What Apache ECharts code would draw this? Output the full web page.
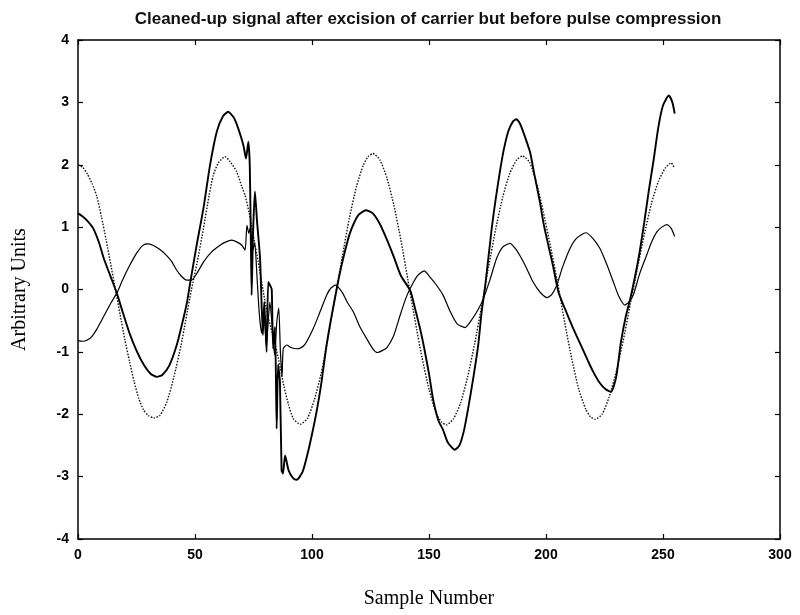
<!DOCTYPE html>
<html>
<head>
<meta charset="utf-8">
<script src="https://cdn.jsdelivr.net/npm/echarts@6/dist/echarts.min.js"></script>
<style>
html,body{margin:0;padding:0;background:#fff;}
#chart{width:800px;height:615px;}
</style>
</head>
<body>
<div id="chart"></div>
<script>
// Thick solid trace (largest amplitude)
var traceThick = [[0,1.22],[2,1.17],[4,1.1],[6.5,0.98],[9,0.75],[11,0.5],[13.7,0.23],[16.7,-0.07],[19,-0.35],[22,-0.7],[25,-0.98],[28,-1.2],[31,-1.35],[33.7,-1.40],[36,-1.37],[39,-1.22],[42.2,-0.89],[44.5,-0.55],[46.5,-0.22],[48,0.12],[50.7,0.71],[53.6,1.3],[56.4,1.99],[59.3,2.53],[62,2.78],[64.2,2.85],[66.5,2.76],[68.5,2.58],[70.7,2.31],[71.8,2.1],[72.8,2.37],[73.4,2.0],[73.8,1.0],[74.2,-0.09],[74.8,0.9],[75.6,1.57],[76.5,1.1],[77.8,0.5],[79,-0.73],[79.6,-0.2],[80.6,-1.0],[81.3,0.12],[82.3,0.05],[82.8,0.0],[83.4,-0.95],[84.2,-0.6],[84.9,-2.23],[85.5,-1.2],[86.3,-1.48],[87,-2.9],[87.6,-2.95],[88.5,-2.66],[90,-2.9],[92,-3.03],[93.5,-3.05],[96,-2.92],[98,-2.65],[100,-2.32],[102,-1.95],[104,-1.5],[106,-0.95],[108,-0.5],[110,-0.1],[112,0.28],[114,0.6],[116,0.88],[118,1.07],[120,1.2],[123,1.27],[126,1.22],[129,1.05],[132,0.8],[135,0.52],[138,0.22],[142,-0.02],[144,-0.3],[146.2,-0.63],[148,-0.95],[150,-1.35],[151.7,-1.75],[154,-2.1],[156,-2.25],[158,-2.45],[161,-2.57],[163,-2.5],[165,-2.25],[167,-1.85],[169,-1.4],[171,-0.9],[172.5,-0.36],[174,0.05],[176.8,0.98],[178.5,1.45],[180.3,1.89],[182,2.25],[184,2.55],[186,2.7],[187.3,2.73],[189,2.65],[191,2.45],[193.2,2.2],[195,1.85],[197.4,1.4],[199,1.05],[201,0.71],[203,0.38],[205.3,-0.04],[208,-0.3],[211.7,-0.63],[215,-0.9],[218,-1.15],[220.2,-1.32],[223,-1.5],[225.5,-1.6],[227.8,-1.64],[230,-1.4],[232,-0.85],[234,-0.45],[236,-0.15],[238,0.2],[240,0.6],[242,1.08],[244,1.6],[246,2.08],[248,2.6],[250,2.95],[252.5,3.11],[254,3.0],[255,2.82]];

// Dotted trace
var traceDotted = [[0,2.0],[2,1.96],[4,1.85],[6,1.7],[8,1.5],[10,1.17],[12,0.8],[14,0.4],[16,0.0],[18,-0.4],[20,-0.8],[22,-1.15],[24,-1.48],[26,-1.75],[28,-1.93],[30,-2.02],[32.5,-2.06],[35,-2.02],[38,-1.8],[41,-1.4],[44,-0.9],[46,-0.5],[48.5,0.0],[51,0.45],[53.6,0.98],[56,1.5],[57.8,1.83],[60,2.03],[62.8,2.13],[65,2.05],[67.8,1.89],[70,1.65],[71.4,1.51],[73.2,1.22],[75,0.85],[77,0.45],[79,0.0],[81,-0.4],[83,-0.7],[85.6,-1.1],[88,-1.55],[90,-1.85],[92,-2.07],[95,-2.16],[98,-2.07],[101,-1.77],[104,-1.33],[107,-0.74],[110,-0.1],[113,0.54],[116,1.15],[119,1.65],[122,2.0],[124,2.13],[126,2.18],[129,2.08],[132,1.79],[135,1.35],[138,0.79],[141,0.15],[144,-0.49],[147,-1.09],[150,-1.6],[153,-1.98],[155.5,-2.13],[157.5,-2.17],[160.5,-2.07],[163.5,-1.82],[166.5,-1.4],[169.5,-0.87],[172.5,-0.26],[175.5,0.37],[178.5,0.97],[181.5,1.48],[184.5,1.86],[187.5,2.08],[190,2.14],[193,2.04],[196,1.7],[198.8,1.25],[202,0.68],[205,0.1],[208,-0.53],[211,-1.11],[214,-1.6],[217,-1.92],[219,-2.04],[221,-2.08],[224,-2.0],[227,-1.72],[230,-1.32],[233,-0.82],[236,-0.24],[239,0.33],[242,0.88],[245,1.37],[248,1.73],[251,1.95],[253.5,2.03],[255,1.94]];

// Thin solid trace (smallest amplitude)
var traceThin = [[0,-0.82],[2,-0.83],[4,-0.81],[6,-0.75],[8,-0.64],[10,-0.5],[12,-0.36],[14,-0.22],[16.7,-0.05],[19,0.15],[22,0.38],[25,0.58],[27.5,0.7],[29.5,0.73],[32,0.71],[35,0.64],[38,0.54],[40,0.45],[42,0.32],[44,0.22],[46.4,0.15],[48.5,0.15],[51,0.27],[53.6,0.44],[57,0.6],[60.7,0.71],[63,0.76],[65.7,0.79],[68,0.76],[70,0.71],[71.4,0.63],[72.2,1.03],[73,0.9],[73.7,1.0],[74.5,0.6],[75.5,0.75],[76.5,0.2],[77.5,-0.4],[78.5,-0.7],[79.5,-0.3],[80.5,-0.9],[81.3,-0.5],[82,-0.2],[83,-0.6],[84,-1.05],[85,-0.5],[85.8,-0.3],[86.5,-1.0],[87.2,-1.4],[87.7,-0.95],[89.2,-0.89],[91,-0.93],[93.4,-0.95],[95,-0.94],[97,-0.88],[100.6,-0.62],[103,-0.4],[106.3,-0.09],[108,0.02],[110,0.07],[113,-0.05],[115,-0.2],[117.7,-0.36],[120.5,-0.6],[123.4,-0.79],[126,-0.95],[128,-1.01],[130,-0.98],[132,-0.93],[134.8,-0.75],[137.6,-0.42],[140,-0.15],[142,0.02],[145,0.22],[148,0.3],[150,0.22],[153,0.08],[156,-0.09],[159,-0.35],[162,-0.55],[165.4,-0.61],[168,-0.5],[171,-0.32],[173.2,-0.15],[176,0.15],[178.9,0.5],[181.5,0.68],[184.6,0.74],[187,0.65],[189.5,0.5],[191.7,0.34],[194.5,0.12],[197.4,-0.04],[200.4,-0.13],[202.5,-0.08],[204.6,0.07],[207,0.35],[210.3,0.66],[213,0.82],[217,0.91],[220,0.82],[223,0.66],[226,0.4],[228.8,0.12],[231,-0.1],[233.7,-0.25],[235.5,-0.2],[237.3,-0.09],[240,0.25],[243,0.55],[245,0.75],[247.3,0.92],[249.5,1.0],[251.7,1.04],[253.5,0.98],[255,0.85]];

var xTicks = [0, 50, 100, 150, 200, 250, 300];
var yTicks = [-4, -3, -2, -1, 0, 1, 2, 3, 4];

var titleText = 'Cleaned-up signal after excision of carrier but before pulse compression';
var xName = 'Sample Number';
var yName = 'Arbitrary Units';

var chart = echarts.init(document.getElementById('chart'), null, {renderer: 'canvas'});

var tickLabelStyle = {color: '#000', fontFamily: 'Liberation Sans, Arial, sans-serif', fontWeight: 'bold', fontSize: 14};
function axisLine() { return {show: true, onZero: false, lineStyle: {color: '#000', width: 1.5}}; }
var tickIn = {show: true, inside: true, length: 5, lineStyle: {color: '#000', width: 1.2}};

var option = {
  backgroundColor: '#fff',
  animation: false,
  title: {
    text: titleText,
    left: 423, top: 6, textAlign: 'center',
    textStyle: {fontFamily: 'Liberation Sans, Arial, sans-serif', fontWeight: 'bold', fontSize: 17, color: '#111'}
  },
  grid: {left: 78, right: 20, top: 40, bottom: 76, containLabel: false},
  xAxis: [{
    type: 'value', min: xTicks[0], max: xTicks[xTicks.length-1], interval: 50,
    position: 'bottom',
    axisLine: axisLine(), axisTick: tickIn, splitLine: {show: false},
    axisLabel: Object.assign({margin: 9}, tickLabelStyle),
    name: xName, nameLocation: 'middle', nameGap: 50,
    nameTextStyle: {fontFamily: 'Liberation Serif, Times New Roman, serif', fontSize: 20, color: '#000'}
  }, {
    type: 'value', min: xTicks[0], max: xTicks[xTicks.length-1], interval: 50,
    position: 'top',
    axisLine: axisLine(), axisTick: tickIn, splitLine: {show: false},
    axisLabel: {show: false}
  }],
  yAxis: [{
    type: 'value', min: yTicks[0], max: yTicks[yTicks.length-1], interval: 1,
    position: 'left',
    axisLine: axisLine(), axisTick: tickIn, splitLine: {show: false},
    axisLabel: Object.assign({margin: 9}, tickLabelStyle),
    name: yName, nameLocation: 'middle', nameGap: 48,
    nameTextStyle: {fontFamily: 'Liberation Serif, Times New Roman, serif', fontSize: 20, color: '#000'}
  }, {
    type: 'value', min: yTicks[0], max: yTicks[yTicks.length-1], interval: 1,
    position: 'right',
    axisLine: axisLine(), axisTick: tickIn, splitLine: {show: false},
    axisLabel: {show: false}
  }],
  series: [{
    type: 'line', data: traceThin, xAxisIndex: 0, yAxisIndex: 0,
    showSymbol: false, smooth: 0.2,
    lineStyle: {color: '#000', width: 1.2}
  }, {
    type: 'line', data: traceDotted, xAxisIndex: 0, yAxisIndex: 0,
    showSymbol: false, smooth: 0.2,
    lineStyle: {color: '#111', width: 1.4, type: [1.5, 1.5]}
  }, {
    type: 'line', data: traceThick, xAxisIndex: 0, yAxisIndex: 0,
    showSymbol: false, smooth: 0.2,
    lineStyle: {color: '#000', width: 1.9}
  }]
};
chart.setOption(option);
</script>
</body>
</html>
